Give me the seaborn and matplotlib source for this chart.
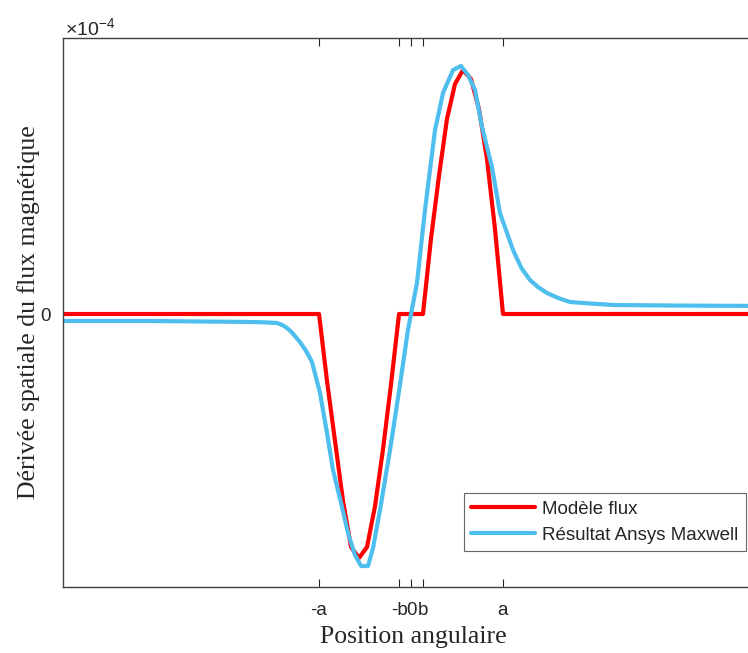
import matplotlib
matplotlib.use("Agg")
import matplotlib.pyplot as plt
import pandas as pd
import seaborn as sns

# x in units of "a" (tick positions -a, -b, 0, b, a); y in units of 1e-4
tick_pos = [-1.0, -0.13, 0.0, 0.13, 1.0]
tick_labels = ["-a", "-b", "0", "b", "a"]

model_x = [-3.8, -1.0, -0.913, -0.826, -0.739, -0.652, -0.565, -0.478, -0.391,
           -0.304, -0.217, -0.13, 0.13, 0.217, 0.304, 0.391, 0.478, 0.565,
           0.652, 0.739, 0.826, 0.913, 1.0, 3.9]
model_y = [0.0, 0.0, -0.67, -1.27, -1.87, -2.33, -2.44, -2.33, -1.92,
           -1.35, -0.70, 0.0, 0.0, 0.75, 1.38, 1.95, 2.30, 2.44,
           2.35, 2.05, 1.55, 0.85, 0.0, 0.0]

ansys_x = [-3.8, -2.84, -2.29, -1.9, -1.75, -1.6, -1.457, -1.4, -1.348, -1.3,
           -1.207, -1.14, -1.076, -0.989, -0.913, -0.848, -0.75, -0.685,
           -0.609, -0.543, -0.467, -0.413, -0.337, -0.228, -0.12, -0.033,
           0.065, 0.152, 0.261, 0.348, 0.457, 0.543, 0.62, 0.696, 0.772,
           0.88, 0.967, 1.109, 1.2, 1.293, 1.38, 1.478, 1.6, 1.728, 1.95,
           2.196, 2.8, 3.9]
ansys_y = [-0.07, -0.07, -0.075, -0.078, -0.08, -0.083, -0.09, -0.11, -0.14,
           -0.18, -0.28, -0.37, -0.48, -0.79, -1.19, -1.56, -1.93, -2.19,
           -2.41, -2.52, -2.52, -2.34, -1.96, -1.36, -0.71, -0.16,
           0.31, 1.04, 1.84, 2.21, 2.44, 2.48, 2.39, 2.24, 1.87,
           1.47, 1.01, 0.64, 0.46, 0.34, 0.27, 0.21, 0.16, 0.12, 0.105,
           0.09, 0.085, 0.08]

sns.set_theme(style="white")
plt.rcParams["font.family"] = ["Liberation Sans", "DejaVu Sans"]

W, H = 748, 653
fig = plt.figure(figsize=(W / 100, H / 100), dpi=100)
ax = fig.add_axes([63 / W, 1 - 587 / H, 1.02 - 63 / W, (587 - 38) / H])

df_model = pd.DataFrame({"x": model_x, "y": model_y})
df_ansys = pd.DataFrame({"x": ansys_x, "y": ansys_y})
sns.lineplot(data=df_model, x="x", y="y", sort=False, estimator=None,
             color="#FF0000", linewidth=3, label="Modèle flux", ax=ax)
sns.lineplot(data=df_ansys, x="x", y="y", sort=False, estimator=None,
             color="#4DBEEE", linewidth=3, label="Résultat Ansys Maxwell", ax=ax)

ax.set_xlim(-3.783, 3.826)
ax.set_ylim(-2.73, 2.76)
ax.set_xticks(tick_pos)
ax.set_xticklabels(tick_labels)
ax.set_yticks([0])
ax.set_yticklabels(["0"])
ax.tick_params(axis="both", direction="in", length=6, width=0.8,
               color="#262626", labelsize=13.5, labelcolor="#262626",
               top=True, bottom=True, left=True, right=False)
ax.tick_params(axis="x", pad=11)
ax.tick_params(axis="y", pad=9)
for s in ["left", "bottom", "top"]:
    ax.spines[s].set_color("#404040")
    ax.spines[s].set_linewidth(1.0)
ax.spines["right"].set_visible(False)

ax.set_xlabel("Position angulaire", family="Liberation Serif", fontsize=18.5,
              color="#262626", labelpad=5)
ax.set_ylabel("Dérivée spatiale du flux magnétique", family="Liberation Serif",
              fontsize=18.5, color="#262626", labelpad=0)
ax.text(0.003, 0.997, "×10$^{\\mathregular{-4}}$", transform=ax.transAxes,
        fontsize=14, color="#262626", va="bottom", ha="left")

leg = ax.legend(loc="lower right", bbox_to_anchor=(746 / W, 1 - 551 / H),
                bbox_transform=fig.transFigure, fontsize=13.5, frameon=True,
                fancybox=False, borderpad=0.4, handlelength=3.4,
                labelspacing=0.45, handletextpad=0.4, borderaxespad=0)
leg.get_frame().set_edgecolor("#404040")
leg.get_frame().set_linewidth(0.8)

fig.savefig("out.png", dpi=100)
